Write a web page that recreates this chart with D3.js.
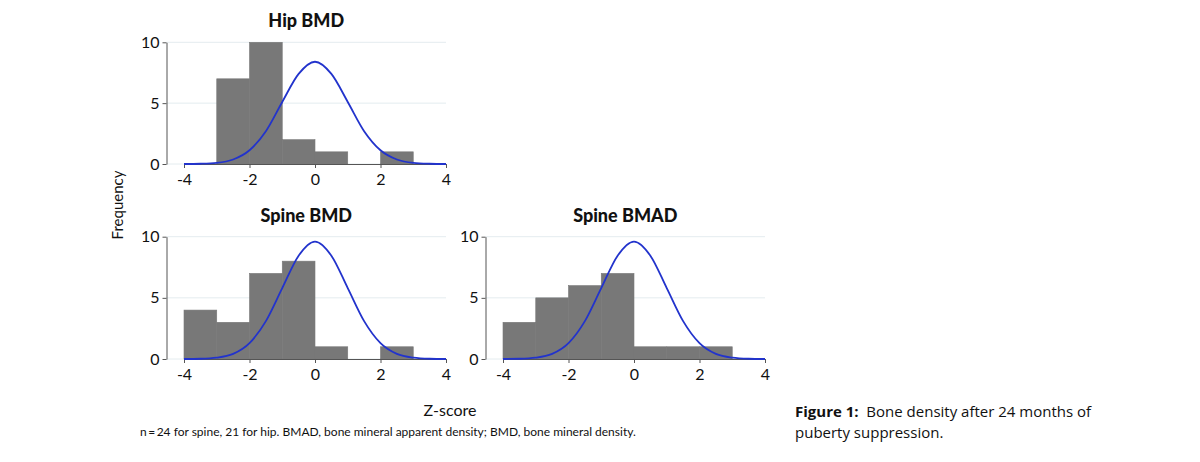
<!DOCTYPE html>
<html>
<head>
<meta charset="utf-8">
<script src="https://cdn.jsdelivr.net/npm/d3@7"></script>
<style>
  html, body { margin: 0; padding: 0; background: #fff; }
  svg { display: block; }
</style>
</head>
<body>
<svg id="chart" width="1200" height="462"></svg>
<script>
// Histogram bins (left edge of each unit-wide bin)
const binStarts = [-4, -3, -2, -1, 0, 1, 2];
const hipCounts = [0, 7, 10, 2, 1, 0, 1];
const spineBmdCounts = [4, 3, 7, 8, 1, 0, 1];
const spineBmadCounts = [3, 5, 6, 7, 1, 1, 1];

// Overlay curve at half-unit steps
const curveZ = [-4, -3.5, -3, -2.5, -2, -1.5, -1, -0.5, 0, 0.5, 1, 1.5, 2, 2.5, 3, 3.5, 4];
const hipCurve = [0, 0.02, 0.09, 0.37, 1.13, 2.7, 5.1, 7.4, 8.4, 7.4, 5.1, 2.7, 1.13, 0.37, 0.09, 0.02, 0];
const spineCurve = [0, 0.02, 0.11, 0.42, 1.3, 3.1, 5.8, 8.45, 9.6, 8.45, 5.8, 3.1, 1.3, 0.42, 0.11, 0.02, 0];

const xTicks = [-4, -2, 0, 2, 4];
const yTicks = [0, 5, 10];

const panels = [
    { title: 'Hip BMD', counts: hipCounts, curve: hipCurve,
      axisX: 166.5, xl: 184, xr: 446, yb: 164, yt: 42.3 },
    { title: 'Spine BMD', counts: spineBmdCounts, curve: spineCurve,
      axisX: 166.5, xl: 184, xr: 446, yb: 359, yt: 236.7 },
    { title: 'Spine BMAD', counts: spineBmadCounts, curve: spineCurve,
      axisX: 485.5, xl: 503, xr: 765, yb: 359, yt: 236.7 }
];

const style = {
    bar: '#787878',
    curve: '#2233cc',
    grid: '#e4ecef',
    axis: '#555',
    font: 'Lato, "Open Sans", sans-serif'
};

const svg = d3.select('#chart');

function drawPanel(p) {
    const x = d3.scaleLinear().domain([-4, 4]).range([p.xl, p.xr]);
    const y = d3.scaleLinear().domain([0, 10]).range([p.yb, p.yt]);
    const g = svg.append('g');

    // Gridlines
    g.selectAll('line.grid')
        .data(yTicks)
        .enter()
        .append('line')
        .attr('class', 'grid')
        .attr('x1', p.axisX)
        .attr('x2', p.xr)
        .attr('y1', d => y(d))
        .attr('y2', d => y(d))
        .attr('stroke', style.grid)
        .attr('stroke-width', 1);

    // Bars
    const bins = binStarts.map((b, i) => ({ start: b, count: p.counts[i] }))
        .filter(d => d.count > 0);
    g.selectAll('rect.bar')
        .data(bins)
        .enter()
        .append('rect')
        .attr('class', 'bar')
        .attr('x', d => x(d.start))
        .attr('width', d => x(d.start + 1) - x(d.start))
        .attr('y', d => y(d.count))
        .attr('height', d => y(0) - y(d.count))
        .attr('fill', style.bar)
        .attr('stroke', style.bar)
        .attr('stroke-width', 0.6);

    // Y axis
    const yAxis = g.append('g')
        .attr('transform', `translate(${p.axisX},0)`)
        .call(d3.axisLeft(y).tickValues(yTicks).tickFormat(d => String(d))
            .tickSize(4).tickSizeOuter(0).tickPadding(3));

    // X axis
    const xAxis = g.append('g')
        .attr('transform', `translate(0,${p.yb})`)
        .call(d3.axisBottom(x).tickValues(xTicks).tickFormat(d => String(d))
            .tickSize(4).tickSizeOuter(0).tickPadding(6));

    [yAxis, xAxis].forEach(a => {
        a.select('.domain').attr('stroke', style.axis);
        a.selectAll('.tick line').attr('stroke', style.axis);
        a.selectAll('.tick text')
            .attr('fill', '#111')
            .style('font-family', style.font)
            .style('font-size', '16px');
    });

    // Overlay curve
    const line = d3.line()
        .x(d => x(d[0]))
        .y(d => y(d[1]))
        .curve(d3.curveMonotoneX);
    g.append('path')
        .datum(curveZ.map((z, i) => [z, p.curve[i]]))
        .attr('d', line)
        .attr('fill', 'none')
        .attr('stroke', style.curve)
        .attr('stroke-width', 1.8);

    // Title
    g.append('text')
        .attr('x', (p.axisX + p.xr) / 2)
        .attr('y', p.yt - 15)
        .attr('text-anchor', 'middle')
        .style('font-family', style.font)
        .style('font-weight', 900)
        .style('font-size', '18px')
        .attr('fill', '#111')
        .text(p.title);
}

panels.forEach(drawPanel);

// Shared axis labels
svg.append('text')
    .attr('transform', 'translate(123,205) rotate(-90)')
    .attr('text-anchor', 'middle')
    .style('font-family', style.font)
    .style('font-size', '15px')
    .attr('fill', '#111')
    .text('Frequency');

svg.append('text')
    .attr('x', 450)
    .attr('y', 416)
    .attr('text-anchor', 'middle')
    .style('font-family', style.font)
    .style('font-size', '16px')
    .attr('fill', '#111')
    .text('Z-score');

svg.append('text')
    .attr('x', 140)
    .attr('y', 436)
    .style('font-family', style.font)
    .style('font-size', '12px')
    .attr('fill', '#111')
    .text('n\u2009=\u200924 for spine, 21 for hip. BMAD, bone mineral apparent density; BMD, bone mineral density.');

// Figure caption
const caption = svg.append('text')
    .attr('x', 795)
    .attr('y', 417)
    .style('font-family', '"Open Sans", "Noto Sans", sans-serif')
    .style('font-size', '15px')
    .attr('fill', '#111');
caption.append('tspan').style('font-weight', 700).text('Figure 1:');
caption.append('tspan').text('\u00a0 Bone density after 24 months of');

svg.append('text')
    .attr('x', 795)
    .attr('y', 438)
    .style('font-family', '"Open Sans", "Noto Sans", sans-serif')
    .style('font-size', '15px')
    .attr('fill', '#111')
    .text('puberty suppression.');
</script>
</body>
</html>
